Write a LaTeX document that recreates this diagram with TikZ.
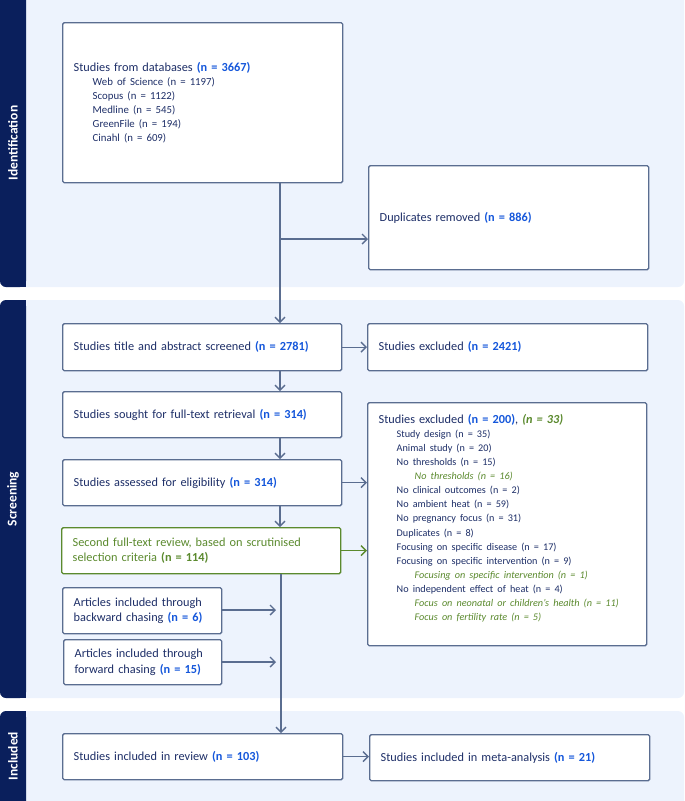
\documentclass[tikz,border=0pt]{standalone}
\usepackage{fontspec}
\setmainfont{Carlito}
\usetikzlibrary{arrows.meta}
\definecolor{navy}{HTML}{0A1F5C}
\definecolor{bandc}{HTML}{EDF3FD}
\definecolor{bordc}{HTML}{5A6D90}
\definecolor{txtc}{HTML}{1E2F68}
\definecolor{numc}{HTML}{1557DB}
\definecolor{grn}{HTML}{5B8A2E}
\newcommand\nb[1]{\textbf{\color{numc}#1}}
\newcommand\subf{\fontsize{10.8}{14.1}\selectfont}
\newcommand\subg{\fontsize{10.2}{14.1}\selectfont}
\newcommand\itD[1]{{\subf\leftskip=19pt\relax #1\par}}
\newcommand\itA[1]{{\subg\leftskip=18pt\relax #1\par}}
\newcommand\itB[1]{{\subg\leftskip=36pt\relax\color{grn}\itshape #1\par}}
\begin{document}
\begin{tikzpicture}[x=1pt,y=-1pt,
  box/.style={draw=bordc, line width=1.4pt, fill=white, rounded corners=1.5pt,
    align=left, inner xsep=11pt, inner ysep=0pt, text=txtc, anchor=north west,
    font=\fontsize{12.3}{15.5}\selectfont},
  arr/.style={draw=bordc, line width=1.4pt, -{Straight Barb[length=5pt,width=10pt]}},
  band/.style={fill=bandc, rounded corners=6pt},
  bar/.style={fill=navy, rounded corners=6pt},
  lab/.style={rotate=90, text=white, font=\fontsize{13.5}{15}\selectfont\bfseries}]
\useasboundingbox (0,0) rectangle (685,801);
\clip (0,0) rectangle (685,801);
% bands
\fill[band] (0,-10) rectangle (684,287);
\fill[band] (0,300) rectangle (684,698);
\fill[band] (0,711) rectangle (684,811);
\fill[bar] (0,-10) rectangle (26,287);
\fill[navy] (10,-10) rectangle (26,287);
\fill[bar] (0,300) rectangle (26,698);
\fill[navy] (10,300) rectangle (26,698);
\fill[bar] (0,711) rectangle (26,811);
\fill[navy] (10,711) rectangle (26,811);
\node[lab] (lid) at (13,143) {Identification};
\node[lab] (lsc) at (13,499) {Screening};
\node[lab] (lin) at (13,756) {Included};
% boxes
\node[box, text width=258pt, minimum height=160pt] (db) at (62,22) {Studies from databases \nb{(n = 3667)}\par
  \itD{Web of Science (n = 1197)}
  \itD{Scopus (n = 1122)}
  \itD{Medline (n = 545)}
  \itD{GreenFile (n = 194)}
  \itD{Cinahl (n = 609)}};
\node[box, text width=258pt, minimum height=104pt] (dup) at (368,165) {Duplicates removed \nb{(n = 886)}};
\node[box, text width=257pt, minimum height=47pt] (scr) at (62,323) {Studies title and abstract screened \nb{(n = 2781)}};
\node[box, text width=258pt, minimum height=47pt] (ex1) at (367,323) {Studies excluded \nb{(n = 2421)}};
\node[box, text width=257pt, minimum height=46pt] (sou) at (62,391) {Studies sought for full-text retrieval \nb{(n = 314)}};
\node[box, text width=257pt, minimum height=46pt] (ass) at (62,459) {Studies assessed for eligibility \nb{(n = 314)}};
\node[box, draw=grn, text=grn, text width=257pt, minimum height=46pt] (sec) at (61,527) {Second full-text review, based on scrutinised\\selection criteria \textbf{(n = 114)}};
\node[box, text width=137pt, minimum height=46pt] (bwd) at (62,587) {Articles included through\\backward chasing \nb{(n = 6)}};
\node[box, text width=136pt, minimum height=45pt] (fwd) at (63,639) {Articles included through\\forward chasing \nb{(n = 15)}};
\node[box, text width=257pt, minimum height=243pt] (ex2) at (367,402) {Studies excluded \nb{(n = 200)}, {\color{grn}\bfseries\itshape (n = 33)}\par
  \itA{Study design (n = 35)}
  \itA{Animal study (n = 20)}
  \itA{No thresholds (n = 15)}
  \itB{No thresholds (n = 16)}
  \itA{No clinical outcomes (n = 2)}
  \itA{No ambient heat (n = 59)}
  \itA{No pregnancy focus (n = 31)}
  \itA{Duplicates (n = 8)}
  \itA{Focusing on specific disease (n = 17)}
  \itA{Focusing on specific intervention (n = 9)}
  \itB{Focusing on specific intervention (n = 1)}
  \itA{No independent effect of heat (n = 4)}
  \itB{Focus on neonatal or children’s health (n = 11)}
  \itB{Focus on fertility rate (n = 5)}\vspace*{12pt}};
\node[box, text width=258pt, minimum height=46pt] (rev) at (62,733) {Studies included in review \nb{(n = 103)}};
\node[box, text width=258pt, minimum height=46pt] (meta) at (369,734) {Studies included in meta-analysis \nb{(n = 21)}};
% connectors
\coordinate (j1) at (280,239);
\coordinate (jb) at (276,610);
\coordinate (jf) at (276,662);
\draw[arr] (db.south -| 280,0) -- (scr.north -| 280,0);
\draw[arr] (j1) -- (j1 -| dup.west);
\draw[arr] (scr) -- (ex1);
\draw[arr] (scr.south -| 280,0) -- (sou.north -| 280,0);
\draw[arr] (sou.south -| 280,0) -- (ass.north -| 280,0);
\draw[arr] (ass.south -| 280,0) -- (sec.north -| 280,0);
\draw[arr] (ass.east) -- (ass.east -| ex2.west);
\draw[arr, draw=grn] (sec.east) -- (sec.east -| ex2.west);
\draw[arr] (sec.south -| 281,0) -- (rev.north -| 281,0);
\draw[arr] (bwd.east |- jb) -- (jb);
\draw[arr] (fwd.east |- jf) -- (jf);
\draw[arr] (rev.east) -- (rev.east -| meta.west);
\end{tikzpicture}
\end{document}
